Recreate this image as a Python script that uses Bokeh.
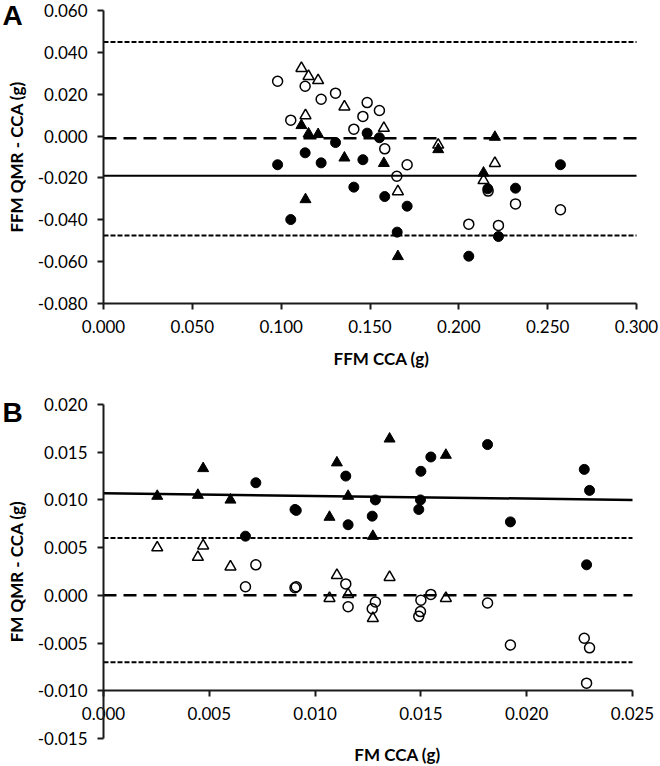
from bokeh.plotting import figure
from bokeh.models import Range1d, FixedTicker, PrintfTickFormatter, Label
from bokeh.layouts import column
from bokeh.embed import file_html
from bokeh.resources import INLINE

# ---------------- Panel A data (FFM) ----------------
a_xticks = [0.0, 0.05, 0.10, 0.15, 0.20, 0.25, 0.30]
a_yticks = [-0.08, -0.06, -0.04, -0.02, 0.0, 0.02, 0.04, 0.06]

a_fill_circ_x = [0.098, 0.1135, 0.1225, 0.1306, 0.146, 0.1484, 0.1409, 0.1054, 0.1553,
                 0.1583, 0.1709, 0.1653, 0.2163, 0.2319, 0.2572, 0.2056, 0.2223]
a_fill_circ_y = [-0.0137, -0.008, -0.0128, -0.0031, -0.0113, 0.0014, -0.0244, -0.0399, -0.0008,
                 -0.0289, -0.0335, -0.0459, -0.0252, -0.0249, -0.0137, -0.0574, -0.048]

a_open_circ_x = [0.098, 0.1135, 0.1225, 0.1306, 0.1054, 0.1484, 0.146, 0.1409, 0.1553,
                 0.1583, 0.1709, 0.1651, 0.2165, 0.2319, 0.2572, 0.2056, 0.2223]
a_open_circ_y = [0.0262, 0.0238, 0.0176, 0.0205, 0.0076, 0.016, 0.0094, 0.0033, 0.0122,
                 -0.0061, -0.0137, -0.0192, -0.0263, -0.0324, -0.0352, -0.0421, -0.0427]

a_fill_tri_x = [0.1114, 0.1154, 0.1208, 0.1356, 0.1137, 0.1578, 0.1884, 0.2203, 0.2139, 0.1657]
a_fill_tri_y = [0.0051, 0.0011, 0.0008, -0.0104, -0.0303, -0.013, -0.0064, -0.0005, -0.0176, -0.0575]

a_open_tri_x = [0.1114, 0.1154, 0.1208, 0.1356, 0.1137, 0.1578, 0.1884, 0.2203, 0.2139, 0.1657]
a_open_tri_y = [0.0324, 0.0286, 0.0266, 0.014, 0.0098, 0.0038, -0.0042, -0.013, -0.0212, -0.0265]

a_upper_loa = 0.045
a_zero_dash = -0.001
a_mean_solid = -0.019
a_lower_loa = -0.0475

# ---------------- Panel B data (FM) ----------------
b_xticks = [0.0, 0.005, 0.010, 0.015, 0.020, 0.025]
b_yticks = [-0.015, -0.010, -0.005, 0.0, 0.005, 0.010, 0.015, 0.020]
b_xaxis_at = -0.010

b_fill_circ_x = [0.0072, 0.00911, 0.00905, 0.00671, 0.01145, 0.01156, 0.01285, 0.0127, 0.015,
                 0.01547, 0.01498, 0.0149, 0.01815, 0.01923, 0.02272, 0.02297, 0.02283]
b_fill_circ_y = [0.0118, 0.0089, 0.0090, 0.0062, 0.0125, 0.0074, 0.0100, 0.0083, 0.0130,
                 0.0145, 0.0100, 0.0090, 0.0158, 0.0077, 0.0132, 0.0110, 0.0032]

b_open_circ_x = [0.0072, 0.00911, 0.00905, 0.00671, 0.01145, 0.01156, 0.01285, 0.0127, 0.015,
                 0.01547, 0.01498, 0.0149, 0.01815, 0.01923, 0.02272, 0.02297, 0.02283]
b_open_circ_y = [0.0032, 0.0009, 0.0008, 0.0009, 0.0012, -0.0012, -0.0007, -0.0014, -0.0005,
                 0.0001, -0.0017, -0.0022, -0.0008, -0.0052, -0.0045, -0.0055, -0.0092]

b_fill_tri_x = [0.00254, 0.00471, 0.00446, 0.0060, 0.01103, 0.01156, 0.01068, 0.01273, 0.01352, 0.01618]
b_fill_tri_y = [0.0104, 0.0133, 0.0105, 0.0100, 0.0139, 0.0104, 0.0082, 0.0062, 0.0164, 0.0147]

b_open_tri_x = [0.00254, 0.00471, 0.00446, 0.0060, 0.01103, 0.01156, 0.01068, 0.01273, 0.01352, 0.01618]
b_open_tri_y = [0.0050, 0.0052, 0.0040, 0.0030, 0.0021, 0.0001, -0.0003, -0.0024, 0.0019, -0.0003]

b_upper_loa = 0.006
b_zero_dash = 0.0
b_lower_loa = -0.007
b_reg_intercept = 0.0107
b_reg_slope = -0.028

FONT = "Lato"
W = 660


def ranges(xticks, yticks, W, H, x0_px, x1_px, ytop_px, ybot_px):
    """Ranges so that the tick span lands on the wanted canvas pixels."""
    xmin, xmax = xticks[0], xticks[-1]
    ymin, ymax = yticks[0], yticks[-1]
    sx = (x1_px - x0_px) / (xmax - xmin)
    sy = (ybot_px - ytop_px) / (ymax - ymin)
    xr = Range1d(xmin - x0_px / sx, xmax + (W - x1_px) / sx)
    yr = Range1d(ymin - (H - ybot_px) / sy, ymax + ytop_px / sy)
    return xr, yr


def make_fig(xticks, yticks, H, x0_px, x1_px, ytop_px, ybot_px, xaxis_at):
    xr, yr = ranges(xticks, yticks, W, H, x0_px, x1_px, ytop_px, ybot_px)
    p = figure(width=W, height=H, x_range=xr, y_range=yr,
               min_border=0, min_border_left=0, min_border_right=0,
               min_border_top=0, min_border_bottom=0,
               output_backend="svg", toolbar_location=None)
    p.xgrid.visible = False
    p.ygrid.visible = False
    p.outline_line_color = None
    p.background_fill_color = "white"
    p.border_fill_color = "white"
    p.xaxis.ticker = FixedTicker(ticks=xticks)
    p.yaxis.ticker = FixedTicker(ticks=yticks)
    p.xaxis.fixed_location = xaxis_at
    p.yaxis.fixed_location = xticks[0]
    p.xaxis.bounds = (xticks[0], xticks[-1])
    p.yaxis.bounds = (yticks[0], yticks[-1])
    for ax in (p.xaxis[0], p.yaxis[0]):
        ax.formatter = PrintfTickFormatter(format="%.3f")
        ax.axis_line_width = 2
        ax.axis_line_color = "#1a1a1a"
        ax.major_tick_line_width = 2
        ax.major_tick_line_color = "#1a1a1a"
        ax.major_tick_in = 0
        ax.major_tick_out = 6
        ax.minor_tick_line_color = None
        ax.major_label_text_font = FONT
        ax.major_label_text_font_size = "17px"
        ax.major_label_text_color = "black"
        ax.major_label_standoff = 10
        ax.axis_label_text_font = FONT
        ax.axis_label_text_font_style = "bold"
        ax.axis_label_text_font_size = "17px"
        ax.axis_label_text_color = "black"
        ax.axis_label_standoff = 8
    return p


def hline(p, xticks, loc, dash, width):
    p.line([xticks[0], xticks[-1]], [loc, loc], line_color="black",
           line_width=width, line_dash=dash)


def add_points(p, fcx, fcy, ocx, ocy, ftx, fty, otx, oty):
    p.scatter(ocx, ocy, marker="circle", size=10, fill_color=None, line_color="black", line_width=1.5)
    p.scatter(otx, oty, marker="triangle", size=11, fill_color=None, line_color="black", line_width=1.5)
    p.scatter(fcx, fcy, marker="circle", size=10, fill_color="black", line_color="black")
    p.scatter(ftx, fty, marker="triangle", size=11, fill_color="black", line_color="black")


def screen_text(p, H, text, x_px, y_px, font, size, align):
    p.add_layout(Label(x=x_px, y=H - y_px, x_units="screen", y_units="screen",
                       text=text, text_font=font, text_font_style="bold",
                       text_font_size=size, text_baseline="middle", text_align=align,
                       text_color="black"))


# ---------------- Figure A ----------------
HA = 370
pA = make_fig(a_xticks, a_yticks, HA, 103, 636, 10, 303, a_yticks[0])
pA.yaxis.axis_label = "FFM QMR - CCA (g)"

hline(pA, a_xticks, a_upper_loa, "5 2", 2)
hline(pA, a_xticks, a_lower_loa, "5 2", 2)
hline(pA, a_xticks, a_zero_dash, "13 7", 2.5)
hline(pA, a_xticks, a_mean_solid, "solid", 2)
add_points(pA, a_fill_circ_x, a_fill_circ_y, a_open_circ_x, a_open_circ_y,
           a_fill_tri_x, a_fill_tri_y, a_open_tri_x, a_open_tri_y)
screen_text(pA, HA, "A", 2, 15, "Liberation Sans", "28px", "left")
screen_text(pA, HA, "FFM CCA (g)", 381, 358, FONT, "17px", "center")

# ---------------- Figure B ----------------
HB = 394
pB = make_fig(b_xticks, b_yticks, HB, 103, 632, 34, 368, b_xaxis_at)
pB.yaxis.axis_label = "FM QMR - CCA (g)"

hline(pB, b_xticks, b_upper_loa, "5 2", 2)
hline(pB, b_xticks, b_lower_loa, "5 2", 2)
hline(pB, b_xticks, b_zero_dash, "13 7", 2.5)
bx = [b_xticks[0], b_xticks[-1]]
by = [b_reg_intercept + b_reg_slope * v for v in bx]
pB.line(bx, by, line_color="black", line_width=2.5)
add_points(pB, b_fill_circ_x, b_fill_circ_y, b_open_circ_x, b_open_circ_y,
           b_fill_tri_x, b_fill_tri_y, b_open_tri_x, b_open_tri_y)
screen_text(pB, HB, "B", 2, 42, "Liberation Sans", "28px", "left")
screen_text(pB, HB, "FM CCA (g)", 397, 384, FONT, "17px", "center")

layout = column(pA, pB, spacing=0)
open("out.html", "w").write(file_html(layout, INLINE))
